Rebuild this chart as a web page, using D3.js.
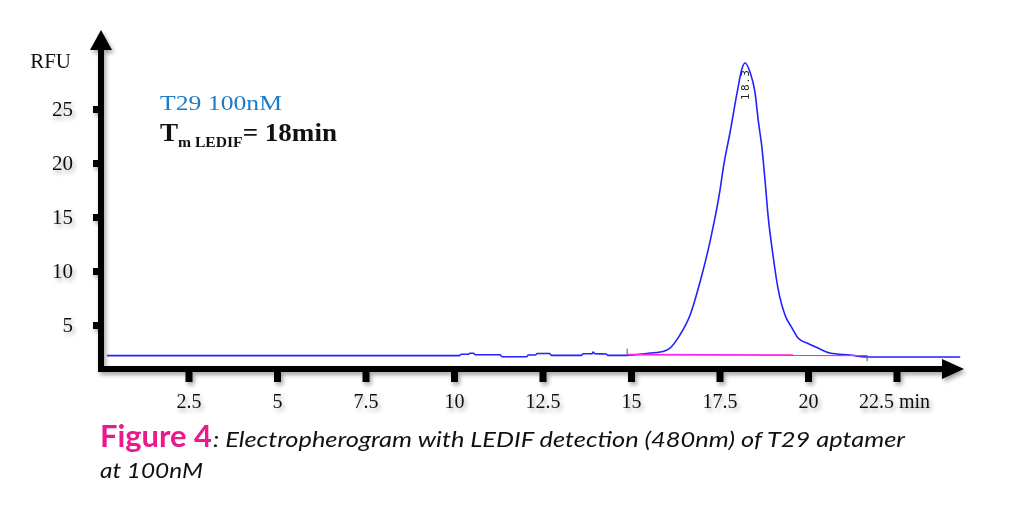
<!DOCTYPE html>
<html><head><meta charset="utf-8">
<script src="https://cdn.jsdelivr.net/npm/d3@7/dist/d3.min.js"></script>
<style>
html,body{margin:0;padding:0;background:#fff;}
svg{display:block;}
</style></head>
<body>
<svg id="chart" width="1024" height="516"></svg>
<script>
// ---- data ----
const times = [0.2,10.15,10.2,10.4,10.45,10.55,10.6,11.3,11.35,12.05,12.1,12.3,12.35,12.7,12.75,13.6,13.65,13.9,13.93,13.98,14.3,14.35,14.89,15.54,15.82,16.1,16.38,16.67,16.95,17.23,17.5,17.62,17.8,18.0,18.14,18.22,18.36,18.5,18.6,18.7,18.79,18.87,19.01,19.15,19.35,19.55,19.72,19.97,20.28,20.62,21.19,21.67,24.3];
const rfu   = [2.16,2.16,2.29,2.29,2.38,2.38,2.25,2.25,2.06,2.06,2.22,2.22,2.36,2.36,2.19,2.19,2.34,2.34,2.5,2.34,2.31,2.19,2.19,2.41,2.5,2.87,4.07,5.93,8.98,12.69,17.2,19.8,22.87,26.57,28.8,29.26,28.43,26.6,23.8,21.39,18.24,15.19,11.48,8.43,5.93,4.72,3.8,3.33,2.87,2.41,2.22,2.04,2.04];
const baselineTimes = [14.89, 21.67];
const baselineRfu = [2.25, 2.2];
const peakTime = 18.22, peakRfu = 29.26, peakLabel = "18.3";
const xTicks = [2.5,5,7.5,10,12.5,15,17.5,20,22.5];
const xTickLabels = ["2.5","5","7.5","10","12.5","15","17.5","20","22.5 min"];
const yTicks = [5,10,15,20,25];
const yTickLabels = ["5","10","15","20","25"];
const yTitle = "RFU";
const sampleName = "T29 100nM";
const captionHead = "Figure 4";
const captionLine1 = ": Electropherogram with LEDIF detection (480nm) of T29 aptamer";
const captionLine2 = "at 100nM";

// ---- layout ----
const svg = d3.select("#chart");
const x = d3.scaleLinear().domain([0, 25]).range([100, 985]);
const y = d3.scaleLinear().domain([0, 30]).range([379, 55]);
const axisY = 369, axisX = 101;
const serif = "'Liberation Serif','Times New Roman',serif";

const defs = svg.append("defs");
const f = defs.append("filter").attr("id","sh").attr("x","-20%").attr("y","-20%").attr("width","140%").attr("height","140%");
f.append("feDropShadow").attr("dx",2).attr("dy",3).attr("stdDeviation",2.2).attr("flood-color","#000").attr("flood-opacity",0.35);

// axes group
const ax = svg.append("g").attr("filter","url(#sh)");
ax.append("line").attr("x1",axisX).attr("x2",axisX).attr("y1",axisY+3).attr("y2",48)
  .attr("stroke","#000").attr("stroke-width",6);
ax.append("path").attr("d",`M${axisX-11},50 L${axisX},30 L${axisX+11},50 Z`).attr("fill","#000");
ax.append("line").attr("x1",axisX-3).attr("x2",944).attr("y1",axisY).attr("y2",axisY)
  .attr("stroke","#000").attr("stroke-width",6);
ax.append("path").attr("d",`M942,${axisY-10} L964,${axisY} L942,${axisY+10} Z`).attr("fill","#000");

// x axis ticks
const xa = d3.axisBottom(x).tickValues(xTicks).tickSize(13).tickPadding(12)
  .tickFormat((d,i)=>xTickLabels[i]);
const gx = ax.append("g").attr("transform",`translate(0,${axisY})`).call(xa);
gx.select(".domain").remove();
gx.selectAll(".tick line").attr("stroke","#000").attr("stroke-width",7);
gx.selectAll(".tick text").attr("font-family",serif).attr("font-size",20).attr("fill","#111")
  .attr("text-anchor",(d,i)=> i===xTicks.length-1 ? "start" : "middle")
  .attr("dx",(d,i)=> i===xTicks.length-1 ? -38 : 0);

// y axis ticks
const ya = d3.axisLeft(y).tickValues(yTicks).tickSize(8).tickPadding(20)
  .tickFormat((d,i)=>yTickLabels[i]);
const gy = ax.append("g").attr("transform",`translate(${axisX},0)`).call(ya);
gy.select(".domain").remove();
gy.selectAll(".tick line").attr("stroke","#000").attr("stroke-width",7);
gy.selectAll(".tick text").attr("font-family",serif).attr("font-size",21).attr("fill","#111");

// RFU
svg.append("text").attr("x",71).attr("y",68).attr("text-anchor","end")
  .attr("font-family",serif).attr("font-size",21).attr("fill","#111").text(yTitle);

// signal
const pts = times.map((t,i)=>[t, rfu[i]]);
const line = d3.line().x(d=>x(d[0])).y(d=>y(d[1])).curve(d3.curveMonotoneX);
svg.append("path").attr("d",line(pts)).attr("fill","none").attr("stroke","#2222ff").attr("stroke-width",1.6);

// integration baseline
const bpts = baselineTimes.map((t,i)=>[t, baselineRfu[i]]);
svg.append("path").attr("d",d3.line().x(d=>x(d[0])).y(d=>y(d[1]))(bpts))
  .attr("fill","none").attr("stroke","#ff22ee").attr("stroke-width",1.8);
svg.append("line").attr("x1",x(baselineTimes[0])).attr("x2",x(baselineTimes[0]))
  .attr("y1",y(baselineRfu[0])).attr("y2",y(baselineRfu[0])-6).attr("stroke","#555").attr("stroke-width",1);
svg.append("line").attr("x1",x(baselineTimes[1])).attr("x2",x(baselineTimes[1]))
  .attr("y1",y(baselineRfu[1])).attr("y2",y(baselineRfu[1])+6).attr("stroke","#555").attr("stroke-width",1);

// peak label
const px = x(peakTime), py = y(peakRfu);
svg.append("text").attr("transform",`translate(${px+4},${py+37}) rotate(-90)`)
  .attr("font-family","'DejaVu Sans',sans-serif").attr("font-size",10.5)
  .attr("letter-spacing",2.2)
  .attr("fill","#222").text(peakLabel);

// annotations
svg.append("text").attr("x",160).attr("y",110).attr("font-family",serif).attr("font-size",21)
  .attr("fill","#1b7bc6").attr("textLength",122).attr("lengthAdjust","spacingAndGlyphs").text(sampleName);
const tm = svg.append("text").attr("x",160).attr("y",141).attr("font-family",serif)
  .attr("font-weight","bold").attr("fill","#111");
tm.append("tspan").attr("font-size",26).text("T");
tm.append("tspan").attr("font-size",15).attr("dy",6).text("m LEDIF");
tm.append("tspan").attr("font-size",26).attr("dy",-6).text("= 18min");
tm.attr("textLength",177).attr("lengthAdjust","spacingAndGlyphs");

// caption
const sans = "Lato,'Open Sans',sans-serif";
svg.append("text").attr("x",100).attr("y",447).attr("font-family",sans).attr("font-weight","bold")
  .attr("font-size",30).attr("fill","#ea1a8c").attr("textLength",112).attr("lengthAdjust","spacingAndGlyphs").text(captionHead);
svg.append("text").attr("x",213).attr("y",447).attr("font-family",sans).attr("font-style","italic")
  .attr("font-size",21).attr("fill","#111").attr("textLength",692).attr("lengthAdjust","spacingAndGlyphs").text(captionLine1);
svg.append("text").attr("x",100).attr("y",478).attr("font-family",sans).attr("font-style","italic")
  .attr("font-size",21).attr("fill","#111").attr("textLength",103).attr("lengthAdjust","spacingAndGlyphs").text(captionLine2);
</script>
</body></html>
